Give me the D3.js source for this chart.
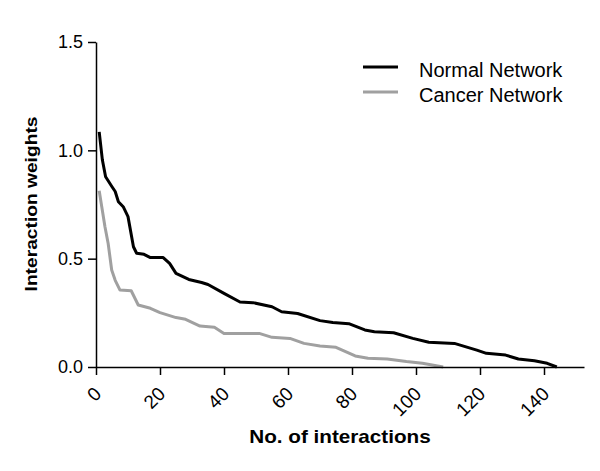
<!DOCTYPE html>
<html>
<head>
<meta charset="utf-8">
<script src="https://cdn.jsdelivr.net/npm/d3@7"></script>
<style>
  body { margin: 0; background: #fff; }
  svg { display: block; font-family: "Liberation Sans", Arial, sans-serif; }
</style>
</head>
<body>
<svg id="chart" width="600" height="471"></svg>
<script>
const normalX = [1,2,3,5,6,7,8.5,10,11.7,12.7,15,17,21,23,25,29,33,35,40,45,49,55,58,63,70,74,79,84,87,93,99,104,112,119,122,128,132,137,141,144];
const normalY = [1.085,0.955,0.878,0.832,0.81,0.763,0.74,0.694,0.555,0.525,0.52,0.505,0.505,0.478,0.432,0.404,0.39,0.381,0.34,0.30,0.297,0.278,0.255,0.247,0.214,0.205,0.20,0.171,0.163,0.158,0.132,0.114,0.109,0.078,0.063,0.055,0.037,0.029,0.017,0.0];
const cancerX = [1,1.8,2.8,3.8,4.9,6,7.5,11,13.2,17,20,25,28,32.5,37,40,51,55,60.6,65,70,75,81,85,91,97,102,108.5];
const cancerY = [0.813,0.74,0.647,0.57,0.448,0.40,0.355,0.352,0.286,0.271,0.251,0.228,0.22,0.189,0.183,0.155,0.155,0.137,0.132,0.109,0.097,0.091,0.051,0.04,0.037,0.025,0.017,0.0];
const xTicks = [0,20,40,60,80,100,120,140];
const yTicks = [0.0,0.5,1.0,1.5];
const seriesNames = ["Normal Network","Cancer Network"];
const seriesColors = ["#000000","#a0a0a0"];

const svg = d3.select("#chart");
const x = d3.scaleLinear().domain([0,152.5]).range([96,584]);
const y = d3.scaleLinear().domain([0,1.5]).range([367,42]);

const series = [
  normalX.map((v,i)=>({x:v,y:normalY[i]})),
  cancerX.map((v,i)=>({x:v,y:cancerY[i]}))
];

const line = d3.line().x(d=>x(d.x)).y(d=>y(d.y));

[1,0].forEach(k=>{
  svg.append("path").datum(series[k])
    .attr("fill","none").attr("stroke",seriesColors[k])
    .attr("stroke-width",3).attr("stroke-linejoin","round")
    .attr("d",line);
});

const xAxis = svg.append("g").attr("transform","translate(0,367)")
  .call(d3.axisBottom(x).tickValues(xTicks).tickSize(8).tickSizeOuter(0).tickFormat(d3.format("d")));
xAxis.select(".domain").attr("stroke-width",1.5);
xAxis.selectAll(".tick line").attr("stroke-width",1.5);
xAxis.selectAll(".tick text")
  .attr("font-size",19).attr("fill","#000")
  .attr("text-anchor","end")
  .attr("dy",null).attr("y",null)
  .attr("transform","translate(6,28) rotate(-45)");

const yAxis = svg.append("g").attr("transform","translate(96,0)")
  .call(d3.axisLeft(y).tickValues(yTicks).tickSize(8).tickSizeOuter(0).tickFormat(d3.format(".1f")));
yAxis.select(".domain").attr("stroke-width",1.5);
yAxis.selectAll(".tick line").attr("stroke-width",1.5);
yAxis.selectAll(".tick text").attr("font-size",18).attr("fill","#000").attr("x",-13);

svg.append("text").attr("transform","translate(340,443) scale(1.15,1)")
  .attr("text-anchor","middle").attr("font-size",18).attr("font-weight","bold")
  .text("No. of interactions");
svg.append("text").attr("transform","translate(37,204) rotate(-90) scale(1.13,1)")
  .attr("text-anchor","middle").attr("font-size",17).attr("font-weight","bold")
  .text("Interaction weights");

seriesNames.forEach((name,i)=>{
  const yy = 67 + i*25;
  svg.append("line").attr("x1",363).attr("x2",398).attr("y1",yy).attr("y2",yy)
    .attr("stroke",seriesColors[i]).attr("stroke-width",3);
  svg.append("text").attr("x",419).attr("y",yy+10).attr("font-size",20).text(name);
});
</script>
</body>
</html>
